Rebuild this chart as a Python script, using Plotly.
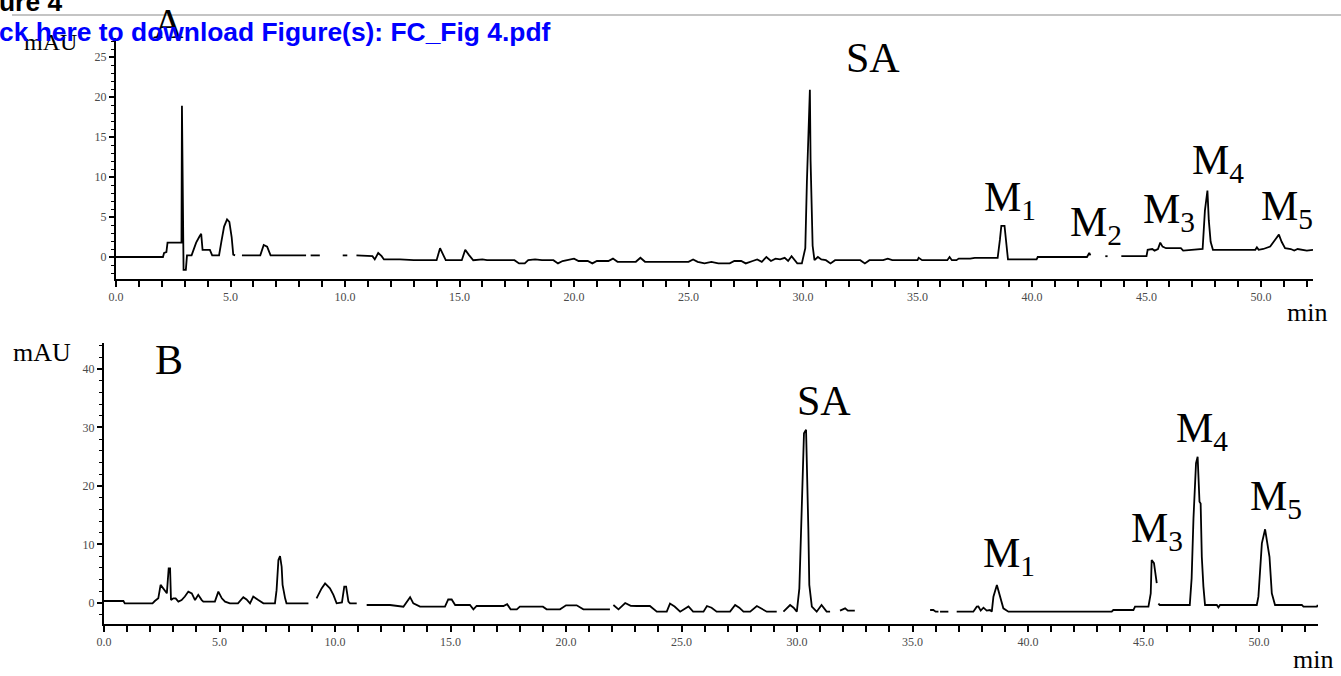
import plotly.graph_objects as go

# Chromatogram A: retention time (min) and absorbance (mAU); None marks a break in the trace
time_a = [0, 2.05, 2.1, 2.2, 2.25, 2.6, 2.86, 2.88, 2.91, 2.95, 3.05, 3.1, 3.3, 3.5, 3.65, 3.72,
          3.78, 4.1, 4.2, 4.5, 4.6, 4.72, 4.85, 4.95, 5.05, 5.12, 5.2, None, 5.5, 6.0, 6.3, 6.45,
          6.6, 6.75, 8.3, None, 8.5, 8.9, None, 9.9, 10.1, None, 10.5, 11.2, 11.3, 11.45, 11.6,
          11.7, 12.4, 13.0, 14.0, 14.15, 14.3, 14.4, 15.1, 15.25, 15.4, 15.6, 16.0, 16.2, 17.4,
          17.6, 17.85, 18.0, 18.3, 18.6, 19.1, 19.3, 19.5, 19.8, 20.0, 20.2, 20.6, 20.8, 21.0,
          21.5, 21.7, 21.9, 22.7, 22.9, 23.1, 25.0, 25.2, 25.4, 25.7, 26.0, 26.3, 26.8, 27.0,
          27.3, 27.5, 27.8, 28.0, 28.2, 28.4, 28.6, 28.8, 29.0, 29.2, 29.35, 29.5, 29.75, 29.95,
          30.1, 30.17, 30.3, 30.33, 30.42, 30.5, 30.65, 30.8, 31.0, 31.2, 31.4, 32.5, 32.7, 32.9,
          33.5, 33.7, 33.9, 35.0, 35.05, 35.2, 36.3, 36.4, 36.5, 36.7, 36.8, 37.3, 37.5, 38.5,
          38.6, 38.66, 38.8, 38.85, 38.95, 40.2, 40.25, 42.4, 42.5, 42.55, None, 43.2, 43.3, None,
          43.9, 45.0, 45.05, 45.25, 45.35, 45.5, 45.6, 45.7, 45.85, 46.5, 46.6, 46.9, 47.45, 47.55,
          47.66, 47.72, 47.8, 47.9, 49.75, 49.82, 49.9, 50.1, 50.4, 50.6, 50.78, 50.9, 51.05,
          51.3, 51.45, 51.6, 51.8, 52.0, 52.27]
mau_a = [0, 0, 0.5, 0.6, 1.8, 1.8, 1.8, 18.9, 7.4, -1.6, -1.6, 0.2, 0.2, 1.8, 2.6, 2.9,
         0.9, 0.9, 0.2, 0.2, 1.9, 3.8, 4.7, 4.4, 2.5, 0.3, 0.2, None, 0.2, 0.2, 0.2, 1.5,
         1.3, 0.2, 0.2, None, 0.2, 0.2, None, 0.2, 0.2, None, 0.2, 0.1, -0.3, 0.5, 0.1,
         -0.3, -0.3, -0.4, -0.4, 1.1, 0.2, -0.4, -0.4, 0.9, 0.3, -0.4, -0.3, -0.4, -0.4,
         -0.8, -0.8, -0.4, -0.3, -0.4, -0.4, -0.8, -0.5, -0.3, -0.2, -0.5, -0.5, -0.8, -0.5,
         -0.5, -0.2, -0.6, -0.6, -0.1, -0.6, -0.6, -0.3, -0.6, -0.8, -0.6, -0.8, -0.8, -0.5,
         -0.5, -0.8, -0.5, -0.3, -0.6, 0.0, -0.5, -0.2, -0.3, -0.1, -0.5, 0.1, -0.8, -0.8,
         1.1, 9.4, 20.9, 12.1, 1.4, -0.4, 0.0, -0.3, -0.4, -0.8, -0.4, -0.4, -0.8, -0.4,
         -0.4, -0.2, -0.4, -0.4, -0.1, -0.4, -0.4, 0.0, -0.4, -0.4, -0.2, -0.2, -0.1, -0.1,
         2.2, 3.9, 3.9, 2.2, -0.3, -0.3, 0.0, 0.0, 0.5, 0.2, None, 0.1, 0.1, None,
         0.1, 0.1, 0.9, 1.0, 0.8, 1.0, 1.8, 1.3, 1.1, 1.1, 0.8, 0.9, 1.0, 5.8,
         8.3, 4.6, 1.9, 0.9, 0.9, 1.2, 0.9, 1.0, 1.3, 2.1, 2.8, 1.9, 1.1,
         1.0, 0.8, 1.0, 0.9, 0.8, 0.9]

# Chromatogram B
time_b = [0, 0.84, 0.9, 2.1, 2.2, 2.35, 2.45, 2.6, 2.72, 2.8, 2.86, 2.9, 3.0, 3.1, 3.22, 3.36,
          3.5, 3.65, 3.8, 3.94, 4.08, 4.23, 4.3, 4.8, 4.95, 5.1, 5.24, 5.45, 5.8, 6.03, 6.17,
          6.32, 6.46, 6.68, 6.9, 7.4, 7.47, 7.55, 7.62, 7.69, 7.73, 7.84, 7.9, 8.85, None, 9.2,
          9.42, 9.57, 9.78, 9.93, 10.07, 10.3, 10.4, 10.48, 10.58, 10.65, 10.94, None, 11.37,
          12.38, 12.96, 13.25, 13.39, 13.68, 14.76, 14.9, 15.05, 15.2, 15.84, 15.99, 16.13,
          17.29, 17.45, 17.6, 17.87, 18.0, 19.0, 19.16, 19.74, 20.0, 20.46, 20.75, 21.9, None,
          22.05, 22.27, 22.56, 22.8, 23.06, 23.63, 23.93, 24.36, 24.5, 24.7, 24.94, 25.3, 25.5,
          25.95, 26.1, 26.3, 26.52, 27.1, 27.32, 27.5, 27.68, 27.97, 28.26, 28.5, 28.69, 29.12,
          None, 29.41, 29.7, 29.85, 29.99, 30.1, 30.2, 30.3, 30.39, 30.42, 30.49, 30.53, 30.64,
          30.85, 31.06, 31.28, 31.43, None, 31.86, 32.08, 32.2, 32.5, None, 35.76, 35.9, 36.0,
          36.12, None, 36.19, 36.55, None, 36.91, 37.63, 37.78, 37.85, 37.95, 38.07, 38.21,
          38.35, 38.43, 38.5, 38.65, 38.79, 38.93, 39.15, 43.62, 43.69, 44.56, 44.63, 45.21,
          45.31, 45.35, 45.45, 45.54, 45.57, None, 45.64, 45.7, 47.0, 47.08, 47.16, 47.27,
          47.34, 47.42, 47.47, 47.52, 47.59, 47.66, 48.17, 48.24, 48.31, 49.9, 49.97, 50.12,
          50.26, 50.33, 50.45, 50.55, 50.69, 51.85, 51.92, 52.5, 52.54]
mau_b = [0.34, 0.34, -0.06, -0.06, 0.34, 0.8, 3.1, 2.2, 1.65, 5.9, 5.9, 0.5, 0.8, 0.8, 0.23, 0.5,
         1.1, 1.95, 1.65, 0.5, 1.4, 0.5, 0.23, 0.23, 1.95, 0.8, 0.23, -0.06, -0.06, 1.0, 0.6,
         -0.06, 1.1, 0.5, -0.06, -0.06, 2.2, 7.35, 8.0, 6.2, 3.1, 0.8, -0.06, -0.06, None, 0.8,
         2.5, 3.35, 2.5, 1.4, -0.06, 0.1, 2.8, 2.8, 0.23, -0.06, -0.06, None, -0.34,
         -0.34, -0.63, 1.0, -0.06, -0.63, -0.63, 0.6, 0.6, -0.34, -0.34, -1.08, -0.51,
         -0.51, -0.2, -1.08, -1.08, -0.63, -0.63, -1.08, -1.08, -0.4, -0.4, -1.08, -1.08, None,
         -0.34, -1.08, 0.0, -0.5, -0.51, -0.51, -1.48, -1.48, -0.1, -0.6, -1.48, -0.6, -1.48,
         -1.48, -0.51, -0.8, -1.48, -1.48, -0.34, -0.8, -1.48, -1.48, -0.51, -1.0, -1.48, -1.48,
         None, -1.48, -0.34, -0.8, -1.48, 2.5, 17.0, 29.0, 29.6, 25.6, 12.5, 3.1, -0.63,
         -1.48, -0.34, -1.48, -1.48, None, -1.3, -0.91, -1.3, -1.3, None, -1.2, -1.2, -1.48,
         -1.48, None, -1.48, -1.48, None, -1.48, -1.48, -0.63, -0.6, -1.3, -0.8, -1.3,
         -1.2, -1.48, 1.08, 3.08, 1.08, -0.91, -1.48, -1.48, -1.2, -1.2, -0.63, -0.63,
         1.65, 7.35, 6.8, 4.5, 3.4, None, -0.1, -0.34, -0.34, 4.2, 14.5, 23.9,
         25.0, 17.3, 17.0, 7.9, 2.8, -0.34, -0.34, -0.74, -0.34, -0.34, 1.08, 10.2,
         12.6, 11.0, 7.9, 1.65, -0.34, -0.34, -0.63, -0.63, -0.34]

# Axis ticks
x_tick_vals = [0, 5, 10, 15, 20, 25, 30, 35, 40, 45, 50]
x_tick_text = ["0.0", "5.0", "10.0", "15.0", "20.0", "25.0", "30.0", "35.0", "40.0", "45.0", "50.0"]
y_tick_vals_a = [0, 5, 10, 15, 20, 25]
y_tick_vals_b = [0, 10, 20, 30, 40]

W, H = 1341, 676


def px(x):
    return x / W


def py(y):
    return 1 - y / H


SERIF = "Liberation Serif, Times New Roman, serif"
SANS = "Liberation Sans, Arial, sans-serif"
TICK_FONT = dict(family=SERIF, size=12, color="#4a4a4a")

fig = go.Figure()
fig.add_trace(go.Scatter(x=time_a, y=mau_a, mode="lines", xaxis="x", yaxis="y",
                         line=dict(color="black", width=1.8), connectgaps=False,
                         showlegend=False, hoverinfo="skip"))
fig.add_trace(go.Scatter(x=time_b, y=mau_b, mode="lines", xaxis="x2", yaxis="y2",
                         line=dict(color="black", width=1.8), connectgaps=False,
                         showlegend=False, hoverinfo="skip"))

common_x = dict(showline=True, linecolor="black", linewidth=2, showgrid=False, zeroline=False,
                automargin=False,
                ticks="outside", ticklen=6, tickwidth=1.5, tickcolor="black",
                tickvals=x_tick_vals, ticktext=x_tick_text, tickfont=TICK_FONT,
                minor=dict(dtick=1, tick0=0, ticks="outside", ticklen=6, tickwidth=1.5,
                           tickcolor="black", showgrid=False))
common_y = dict(showline=True, linecolor="black", linewidth=2, showgrid=False, zeroline=False,
                automargin=False,
                ticks="outside", ticklen=5, tickwidth=1.5, tickcolor="black",
                tickfont=TICK_FONT, ticklabelstandoff=0)

fig.update_layout(
    width=W, height=H, margin=dict(l=0, r=0, t=0, b=0, pad=0, autoexpand=False),
    paper_bgcolor="white", plot_bgcolor="white",
    xaxis=dict(domain=[px(116), px(1313)], range=[0, 52.27], anchor="y", **common_x),
    yaxis=dict(domain=[py(279), py(38)], range=[-2.75, 27.375], anchor="x",
               tickvals=y_tick_vals_a,
               minor=dict(dtick=1, tick0=0, ticks="outside", ticklen=3, tickwidth=1.2,
                          tickcolor="black", showgrid=False),
               **common_y),
    xaxis2=dict(domain=[px(104), px(1318)], range=[0, 52.55], anchor="y2", **common_x),
    yaxis2=dict(domain=[py(624), py(343)], range=[-3.59, 44.44], anchor="x2",
                tickvals=y_tick_vals_b,
                minor=dict(dtick=2, tick0=0, ticks="outside", ticklen=3, tickwidth=1.2,
                           tickcolor="black", showgrid=False),
                **common_y),
)


def label(text, x, y, size=42, family=SERIF, color="black", xanchor="center",
          yanchor="middle", xshift=0):
    fig.add_annotation(text=text, x=px(x), y=py(y), xref="paper", yref="paper",
                       xanchor=xanchor, yanchor=yanchor, showarrow=False, xshift=xshift,
                       font=dict(family=family, size=size, color=color))


# Panel A labels
label("A", 168, 24)
label("mAU", 50, 42, size=24)
label("SA", 873, 58)
label("M<sub>1</sub>", 1010, 200)
label("M<sub>2</sub>", 1096, 225)
label("M<sub>3</sub>", 1169, 212)
label("M<sub>4</sub>", 1218, 163)
label("M<sub>5</sub>", 1287, 209)
label("min", 1307, 312, size=26)

# Panel B labels
label("B", 169, 360)
label("mAU", 42, 352, size=26)
label("SA", 824, 401)
label("M<sub>1</sub>", 1009, 556)
label("M<sub>3</sub>", 1157, 531)
label("M<sub>4</sub>", 1202, 431)
label("M<sub>5</sub>", 1276, 499)
label("min", 1313, 659, size=26)

# Document header strip
fig.add_shape(type="line", xref="paper", yref="paper", x0=px(12), x1=1, y0=py(15), y1=py(15),
              line=dict(color="#c4c4c4", width=2))
label("<b>ure 4</b>", 0, 2, size=26.4, family=SANS, xanchor="left", xshift=-3)
label("<b>ck here to download Figure(s): FC_Fig 4.pdf</b>", 0, 32, size=26.4, family=SANS,
      color="#0000ff", xanchor="left", xshift=-3)

fig.write_html("out.html")
